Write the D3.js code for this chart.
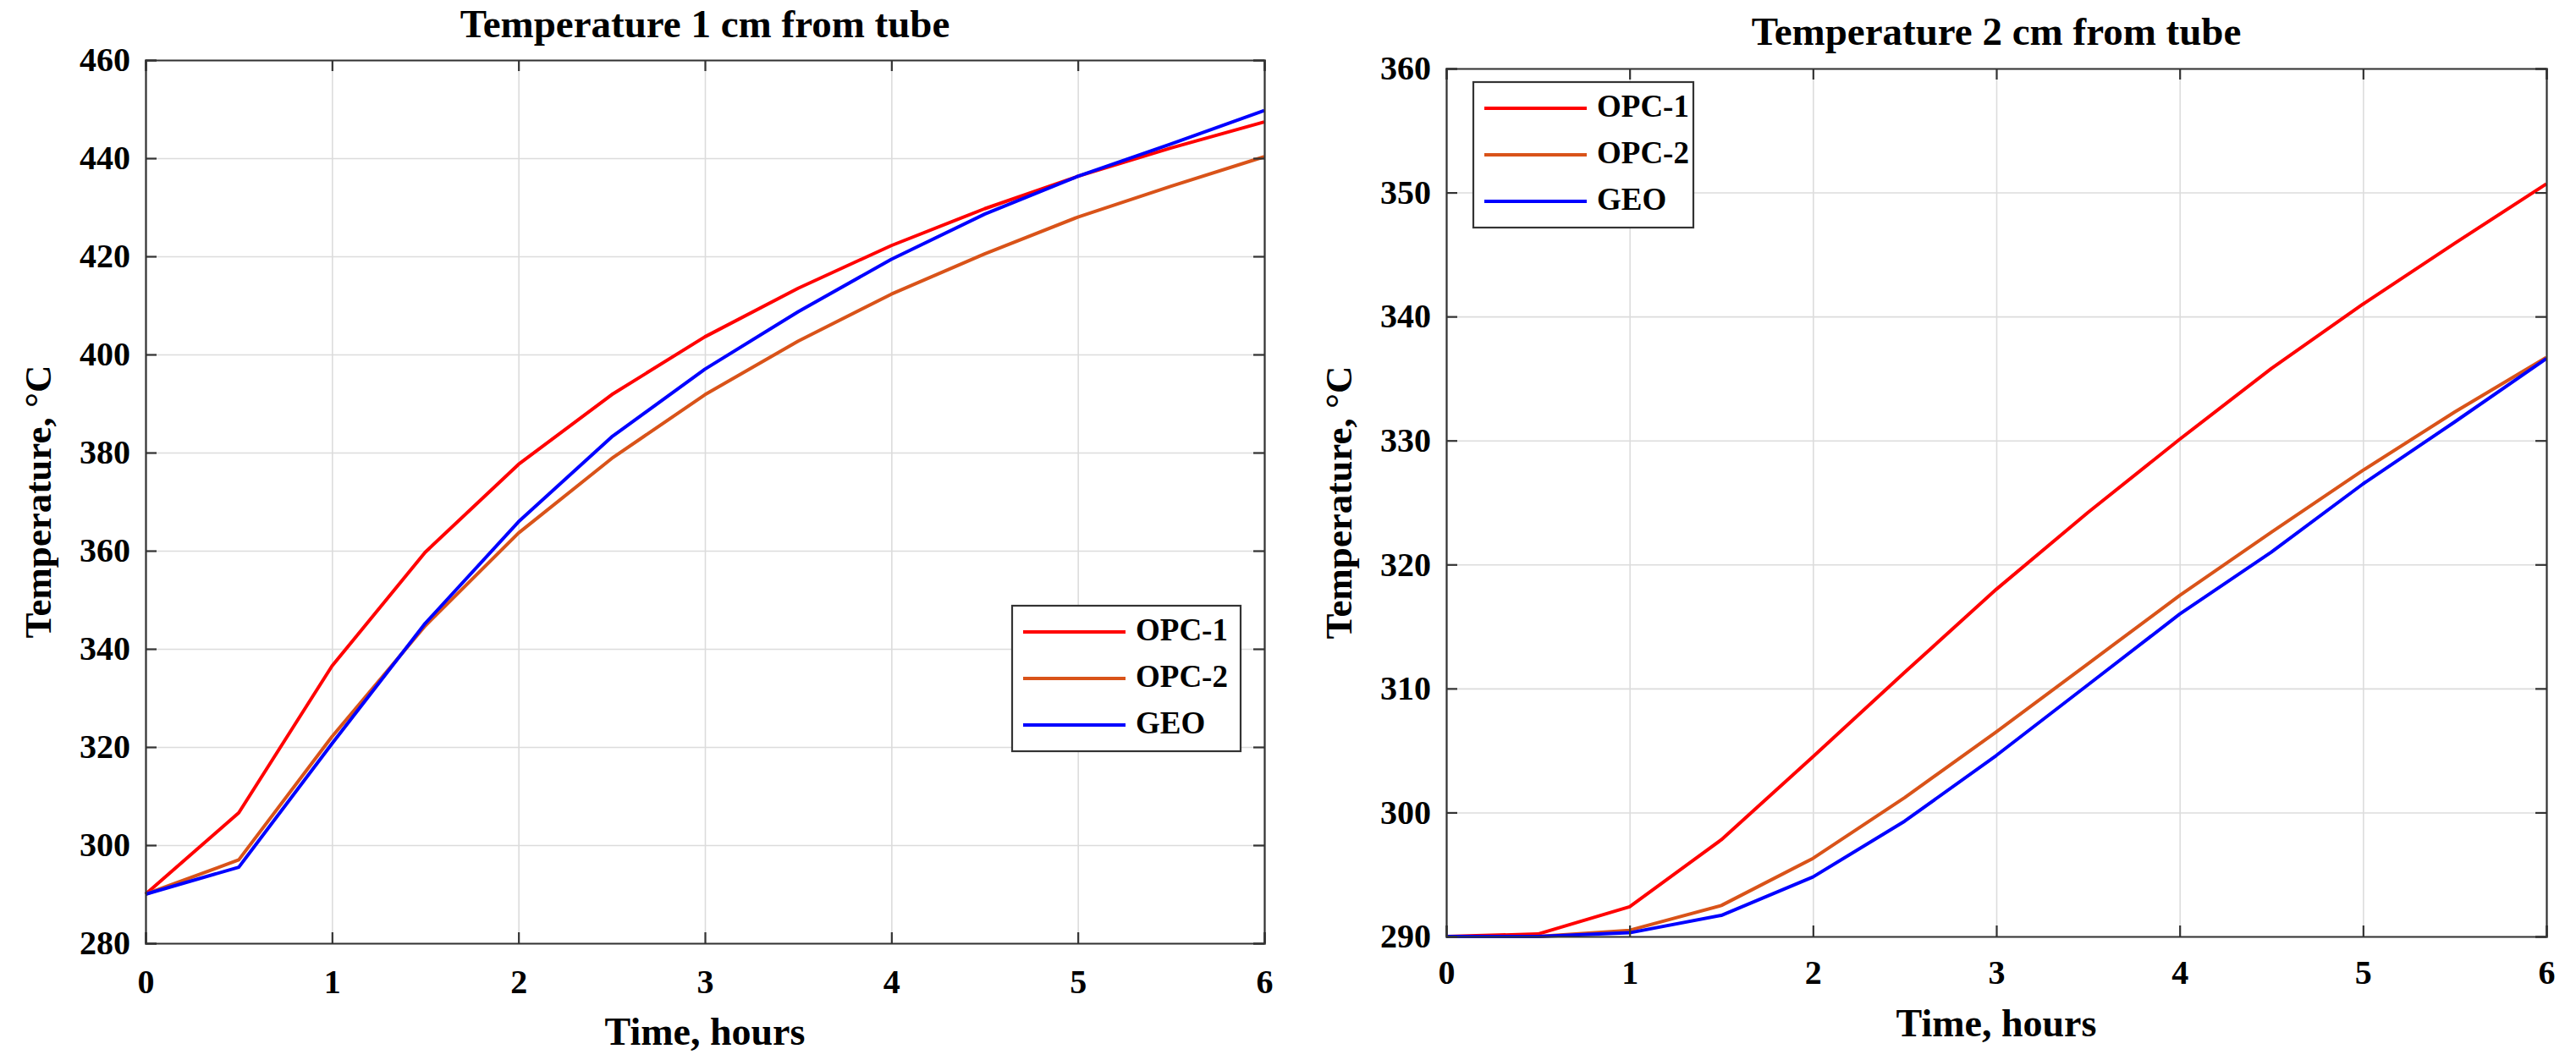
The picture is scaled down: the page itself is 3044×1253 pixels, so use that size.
<!DOCTYPE html>
<html lang="en">
<head>
	<meta charset="utf-8">
	<title>Temperature near tube</title>
	<script src="https://d3js.org/d3.v7.min.js"></script>
	<style>
		body { margin: 0; background: #fff; }
		text {
			font-family: "Palatino Linotype", "Book Antiqua", Palatino, "Liberation Serif", serif;
			font-weight: bold;
			fill: #000;
		}
	</style>
</head>
<body>
<script>
	// time axis (hours)
	var hours = [0, 0.5, 1, 1.5, 2, 2.5, 3, 3.5, 4, 4.5, 5, 5.5, 6];
	var xTicks = [0, 1, 2, 3, 4, 5, 6];
	var seriesNames = ["OPC-1", "OPC-2", "GEO"];

	// 1 cm from tube
	var cm1_opc1 = [290, 306.6, 336.5, 359.7, 377.6, 391.8, 403.6, 413.5, 422.2, 429.7, 436.3, 442.1, 447.4];
	var cm1_opc2 = [290, 297.0, 322.1, 344.7, 363.6, 378.8, 391.8, 402.7, 412.3, 420.5, 428.0, 434.3, 440.3];
	var cm1_geo  = [290, 295.5, 320.7, 345.2, 365.9, 383.2, 397.0, 408.7, 419.4, 428.6, 436.3, 442.9, 449.7];
	var cm1_yTicks = [280, 300, 320, 340, 360, 380, 400, 420, 440, 460];

	// 2 cm from tube
	var cm2_opc1 = [290, 290.2, 292.4, 297.8, 304.5, 311.3, 318.0, 324.2, 330.1, 335.8, 341.0, 345.9, 350.7];
	var cm2_opc2 = [290, 290.0, 290.5, 292.5, 296.3, 301.2, 306.5, 312.0, 317.5, 322.6, 327.6, 332.3, 336.7];
	var cm2_geo  = [290, 290.0, 290.3, 291.7, 294.8, 299.3, 304.6, 310.3, 316.0, 321.0, 326.5, 331.5, 336.6];
	var cm2_yTicks = [290, 300, 310, 320, 330, 340, 350, 360];

	var colors = ["#ff0000", "#d95319", "#0000ff"];

	var w = 3044, h = 1253;
	var svg = d3.select("body").append("svg")
		.attr("width", w)
		.attr("height", h);

	function drawPanel(p) {
		var iw = p.right - p.left, ih = p.bottom - p.top;
		var g = svg.append("g").attr("transform", "translate(" + p.left + "," + p.top + ")");

		var x = d3.scaleLinear().domain([0, 6]).range([0, iw]);
		var y = d3.scaleLinear().domain([p.yTicks[0], p.yTicks[p.yTicks.length - 1]]).range([ih, 0]);

		// grid
		g.append("g").attr("class", "grid")
			.attr("transform", "translate(0," + ih + ")")
			.call(d3.axisBottom(x).tickValues(xTicks).tickSize(-ih).tickFormat(""));
		g.append("g").attr("class", "grid")
			.call(d3.axisLeft(y).tickValues(p.yTicks).tickSize(-iw).tickFormat(""));
		g.selectAll(".grid .domain").remove();
		g.selectAll(".grid line").attr("stroke", "#dcdcdc").attr("stroke-width", 1.6);

		// lines
		var line = d3.line()
			.x(function(d, i) { return x(hours[i]); })
			.y(function(d) { return y(d); });
		p.series.forEach(function(s, i) {
			g.append("path")
				.datum(s)
				.attr("d", line)
				.attr("fill", "none")
				.attr("stroke", colors[i])
				.attr("stroke-width", 4)
				.attr("stroke-linejoin", "round");
		});

		// axes, ticks inward on all four sides
		var bottom = g.append("g").attr("transform", "translate(0," + ih + ")")
			.call(d3.axisBottom(x).tickValues(xTicks).tickSize(-13).tickPadding(p.xPad).tickFormat(d3.format("d")));
		var left = g.append("g")
			.call(d3.axisLeft(y).tickValues(p.yTicks).tickSize(-13).tickPadding(18).tickFormat(d3.format("d")));
		g.append("g")
			.call(d3.axisTop(x).tickValues(xTicks).tickSize(-13).tickFormat(""));
		g.append("g").attr("transform", "translate(" + iw + ",0)")
			.call(d3.axisRight(y).tickValues(p.yTicks).tickSize(-13).tickFormat(""));
		g.selectAll(".domain, .tick line").filter(function() { return !this.closest(".grid"); })
			.attr("stroke", "#333").attr("stroke-width", 2.2);
		bottom.selectAll("text").attr("font-size", 40).attr("dy", "0.71em");
		left.selectAll("text").attr("font-size", 40);

		// titles
		svg.append("text")
			.attr("x", p.left + iw / 2).attr("y", p.titleY)
			.attr("text-anchor", "middle").attr("font-size", 47)
			.text(p.title);
		svg.append("text")
			.attr("x", p.left + iw / 2).attr("y", p.xLabelY)
			.attr("text-anchor", "middle").attr("font-size", 46)
			.text("Time, hours");
		svg.append("text")
			.attr("transform", "translate(" + (p.left - 112) + "," + (p.top + ih / 2) + ") rotate(-90)")
			.attr("text-anchor", "middle").attr("font-size", 45)
			.text("Temperature, °C");

		// legend
		var lg = svg.append("g").attr("transform", "translate(" + p.legX + "," + p.legY + ")");
		lg.append("rect")
			.attr("width", p.legW).attr("height", 172)
			.attr("fill", "#fff").attr("stroke", "#333").attr("stroke-width", 2.2);
		seriesNames.forEach(function(name, i) {
			var ly = 31 + i * 55;
			lg.append("line")
				.attr("x1", 13).attr("x2", 134).attr("y1", ly).attr("y2", ly)
				.attr("stroke", colors[i]).attr("stroke-width", 4);
			lg.append("text")
				.attr("x", 146).attr("y", ly + 10)
				.attr("font-size", 37)
				.text(name);
		});
	}

	drawPanel({
		left: 172, right: 1494, top: 71, bottom: 1115,
		yTicks: cm1_yTicks,
		series: [cm1_opc1, cm1_opc2, cm1_geo],
		title: "Temperature 1 cm from tube",
		titleY: 44, xLabelY: 1235, xPad: 31,
		legX: 1196, legY: 716, legW: 270
	});

	drawPanel({
		left: 1709, right: 3009, top: 81, bottom: 1107,
		yTicks: cm2_yTicks,
		series: [cm2_opc1, cm2_opc2, cm2_geo],
		title: "Temperature 2 cm from tube",
		titleY: 53, xLabelY: 1225, xPad: 28,
		legX: 1741, legY: 97, legW: 260
	});
</script>
</body>
</html>
